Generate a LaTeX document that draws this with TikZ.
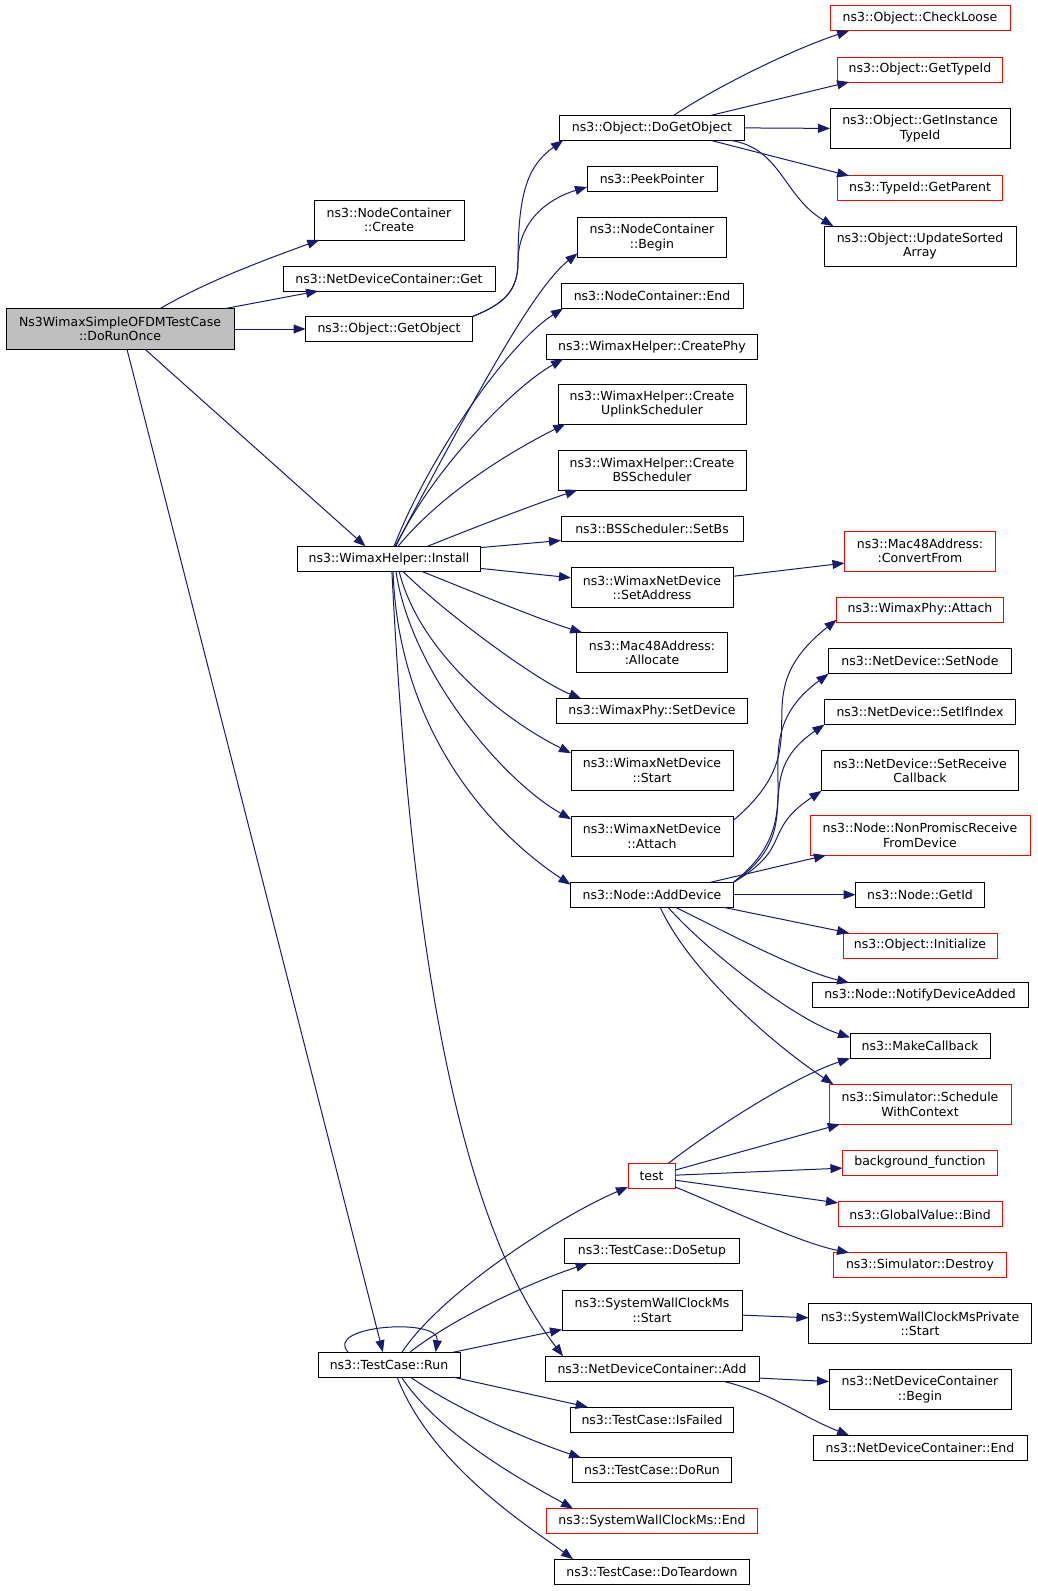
\documentclass[tikz,border=0pt]{standalone}
\usepackage{fontspec}
\setmainfont{DejaVu Sans}
\usetikzlibrary{arrows.meta}
\definecolor{edgeblue}{RGB}{25,25,112}
\definecolor{rootgrey}{RGB}{191,191,191}
\definecolor{docred}{RGB}{255,0,0}
\tikzset{
  fn/.style={draw=black, fill=white, line width=0.9pt, inner sep=0pt, outer sep=0pt,
    minimum height=25pt, align=center, font=\fontsize{12.5}{14.3}\selectfont},
  fntwo/.style={fn, minimum height=40pt},
  fnred/.style={fn, draw=docred},
  fnredtwo/.style={fntwo, draw=docred},
  fnroot/.style={fntwo, fill=rootgrey, minimum height=41pt},
  call/.style={draw=edgeblue, line width=1pt, -{Triangle[length=12pt,width=9pt]}},
}
\begin{document}
\begin{tikzpicture}[x=1pt,y=1pt]
    \useasboundingbox (0,0) rectangle (1037,-1591);
    \node[fnroot, minimum width=228pt] (dorunonce) at (120,-329) {Ns3WimaxSimpleOFDMTestCase\\::DoRunOnce};
    \node[fntwo, minimum width=150pt] (nccreate) at (389,-220) {ns3::NodeContainer\\::Create};
    \node[fn, minimum width=212pt] (ndcget) at (389,-278.5) {ns3::NetDeviceContainer::Get};
    \node[fn, minimum width=167pt] (getobject) at (389,-329) {ns3::Object::GetObject};
    \node[fn, minimum width=183pt] (install) at (389,-558.8) {ns3::WimaxHelper::Install};
    \node[fn, minimum width=142pt] (run) at (389,-1364.7) {ns3::TestCase::Run};

    \node[fn, minimum width=185pt] (dogetobject) at (652,-127.9) {ns3::Object::DoGetObject};
    \node[fn, minimum width=130pt] (peekpointer) at (652,-179) {ns3::PeekPointer};
    \node[fntwo, minimum width=149pt] (ncbegin) at (652,-237.5) {ns3::NodeContainer\\::Begin};
    \node[fn, minimum width=182pt] (ncend) at (652,-295.9) {ns3::NodeContainer::End};
    \node[fn, minimum width=211pt] (createphy) at (652,-346.6) {ns3::WimaxHelper::CreatePhy};
    \node[fntwo, minimum width=188pt] (createuplink) at (652,-404) {ns3::WimaxHelper::Create\\UplinkScheduler};
    \node[fntwo, minimum width=188pt] (createbs) at (652,-470) {ns3::WimaxHelper::Create\\BSScheduler};
    \node[fn, minimum width=182pt] (setbs) at (652,-529.3) {ns3::BSScheduler::SetBs};
    \node[fntwo, minimum width=162pt] (setaddress) at (652,-587.7) {ns3::WimaxNetDevice\\::SetAddress};
    \node[fntwo, minimum width=151pt] (allocate) at (652,-652.6) {ns3::Mac48Address:\\:Allocate};
    \node[fn, minimum width=191pt] (setdevice) at (652,-711) {ns3::WimaxPhy::SetDevice};
    \node[fntwo, minimum width=162pt] (wndstart) at (652,-770.4) {ns3::WimaxNetDevice\\::Start};
    \node[fntwo, minimum width=162pt] (wndattach) at (652,-836.4) {ns3::WimaxNetDevice\\::Attach};
    \node[fn, minimum width=163pt] (adddevice) at (652,-894.7) {ns3::Node::AddDevice};
    \node[fnred, minimum width=47pt] (test) at (651.5,-1176) {test};
    \node[fn, minimum width=175pt] (dosetup) at (652,-1251) {ns3::TestCase::DoSetup};
    \node[fntwo, minimum width=180pt] (swcmstart) at (652,-1310.4) {ns3::SystemWallClockMs\\::Start};
    \node[fn, minimum width=214pt] (ndcadd) at (652,-1368.7) {ns3::NetDeviceContainer::Add};
    \node[fn, minimum width=163pt] (isfailed) at (652,-1419.5) {ns3::TestCase::IsFailed};
    \node[fn, minimum width=159pt] (dorun) at (652,-1470.2) {ns3::TestCase::DoRun};
    \node[fnred, minimum width=211pt] (swcmend) at (652,-1521) {ns3::SystemWallClockMs::End};
    \node[fn, minimum width=195pt] (doteardown) at (652,-1571.7) {ns3::TestCase::DoTeardown};

    \node[fnred, minimum width=180pt] (checkloose) at (920,-18.3) {ns3::Object::CheckLoose};
    \node[fnred, minimum width=165pt] (gettypeid) at (920,-69.5) {ns3::Object::GetTypeId};
    \node[fntwo, minimum width=180pt] (getinstance) at (920,-128.4) {ns3::Object::GetInstance\\TypeId};
    \node[fnred, minimum width=165pt] (getparent) at (920,-188.3) {ns3::TypeId::GetParent};
    \node[fntwo, minimum width=192pt] (updatesorted) at (920,-246.1) {ns3::Object::UpdateSorted\\Array};
    \node[fnredtwo, minimum width=151pt] (convertfrom) at (920,-551.1) {ns3::Mac48Address:\\:ConvertFrom};
    \node[fnred, minimum width=167pt] (phyattach) at (920,-609.5) {ns3::WimaxPhy::Attach};
    \node[fn, minimum width=183pt] (setnode) at (920,-661.3) {ns3::NetDevice::SetNode};
    \node[fn, minimum width=191pt] (setifindex) at (920,-712) {ns3::NetDevice::SetIfIndex};
    \node[fntwo, minimum width=197pt] (setreceive) at (920,-770.9) {ns3::NetDevice::SetReceive\\Callback};
    \node[fnredtwo, minimum width=220pt] (nonpromisc) at (920,-835.3) {ns3::Node::NonPromiscReceive\\FromDevice};
    \node[fn, minimum width=129pt] (getid) at (920,-894.7) {ns3::Node::GetId};
    \node[fnred, minimum width=154pt] (initialize) at (920,-945.5) {ns3::Object::Initialize};
    \node[fn, minimum width=216pt] (notify) at (920,-995.2) {ns3::Node::NotifyDeviceAdded};
    \node[fn, minimum width=140pt] (makecallback) at (920,-1046) {ns3::MakeCallback};
    \node[fnredtwo, minimum width=182pt] (schedule) at (920,-1104.3) {ns3::Simulator::Schedule\\WithContext};
    \node[fnred, minimum width=155pt] (bgfunction) at (920,-1162.7) {background\_function};
    \node[fnred, minimum width=164pt] (gvbind) at (920,-1214.4) {ns3::GlobalValue::Bind};
    \node[fnred, minimum width=173pt] (simdestroy) at (920,-1265.2) {ns3::Simulator::Destroy};
    \node[fntwo, minimum width=223pt] (swcmprivate) at (920,-1323.6) {ns3::SystemWallClockMsPrivate\\::Start};
    \node[fntwo, minimum width=182pt] (ndcbegin) at (920,-1389.5) {ns3::NetDeviceContainer\\::Begin};
    \node[fn, minimum width=214pt] (ndcend) at (920,-1447.9) {ns3::NetDeviceContainer::End};

    % DoRunOnce
    \draw[call] (dorunonce.27) .. controls +(48,28) and +(-52,-19) .. (nccreate.196);
    \draw[call] (dorunonce.11) -- (ndcget.190);
    \draw[call] (dorunonce.east) -- (getobject.west);
    \draw[call] (dorunonce.321) -- (install.152);
    \draw[call] (dorunonce.289) -- (run.116);

    % GetObject
    \draw[call] (getobject.north east) .. controls +(30,12) and +(0,-30) .. (518,-262)
        .. controls +(0,70) and +(-35,-25) .. (dogetobject.188);
    \draw[call] (getobject.north east) .. controls +(30,12) and +(0,-30) .. (518,-262)
        .. controls +(0,40) and +(-40,-12) .. (peekpointer.187);

    % Install
    \draw[call] (install.64) .. controls +(70,130) and +(-47,-37) .. (ncbegin.192);
    \draw[call] (install.68) .. controls +(35,90) and +(-55,-35) .. (ncend.188);
    \draw[call] (install.61) .. controls +(35,75) and +(-50,-28) .. (createphy.188);
    \draw[call] (install.54) .. controls +(45,55) and +(-50,-25) .. (createuplink.193);
    \draw[call] (install.18) .. controls +(50,20) and +(-50,-17) .. (createbs.195);
    \draw[call] (install.7) -- (setbs.187);
    \draw[call] (install.354) -- (setaddress.173);
    \draw[call] (install.339) .. controls +(50,-20) and +(-45,14) .. (allocate.164);
    \draw[call] (install.318) .. controls +(40,-40) and +(-45,18) .. (setdevice.170);
    \draw[call] (install.309) .. controls +(20,-80) and +(-70,35) .. (wndstart.168);
    \draw[call] (install.299) .. controls +(15,-100) and +(-70,40) .. (wndattach.168);
    \draw[call] (install.288) .. controls +(5,-150) and +(-90,60) .. (adddevice.173);
    \draw[call] (install.283) .. controls +(20,-400) and +(-100,130) .. (ndcadd.172);

    % DoGetObject
    \draw[call] (dogetobject.30) .. controls +(45,30) and +(-55,-18) .. (checkloose.190);
    \draw[call] (dogetobject.12) -- (gettypeid.190);
    \draw[call] (dogetobject.east) -- (getinstance.west);
    \draw[call] (dogetobject.348) -- (getparent.170);
    \draw[call] (dogetobject.351) .. controls +(50,-8) and +(-50,30) .. (updatesorted.167);

    \draw[call] (setaddress.8) -- (convertfrom.189);
    \draw[call] (wndattach.11) .. controls +(95,80) and +(-100,-80) .. (phyattach.187);

    % AddDevice
    \draw[call] (adddevice.north east) .. controls +(90,70) and +(-95,-70) .. (setnode.south west);
    \draw[call] (adddevice.north east) .. controls +(80,55) and +(-80,-55) .. (setifindex.south west);
    \draw[call] (adddevice.north east) .. controls +(60,35) and +(-60,-40) .. (setreceive.south west);
    \draw[call] (adddevice.12) -- (nonpromisc.192);
    \draw[call] (adddevice.east) -- (getid.west);
    \draw[call] (adddevice.350) -- (initialize.170);
    \draw[call] (adddevice.332) .. controls +(50,-25) and +(-50,12) .. (notify.170);
    \draw[call] (adddevice.322) .. controls +(40,-45) and +(-55,18) .. (makecallback.173);
    \draw[call] (adddevice.303) .. controls +(30,-65) and +(-60,40) .. (schedule.167);

    % test
    \draw[call] (test.37) .. controls +(45,35) and +(-55,-18) .. (makecallback.190);
    \draw[call] (test.14) -- (schedule.194);
    \draw[call] (test.2) -- (bgfunction.184);
    \draw[call] (test.350) -- (gvbind.172);
    \draw[call] (test.335) .. controls +(50,-20) and +(-50,10) .. (simdestroy.170);

    % Run
    \draw[call] (run.163) .. controls +(-25,27) and +(5,35) .. (run.15);
    \draw[call] (run.44) .. controls +(40,60) and +(-70,-30) .. (test.205);
    \draw[call] (run.31) .. controls +(45,35) and +(-55,-18) .. (dosetup.191);
    \draw[call] (run.11) -- (swcmstart.192);
    \draw[call] (run.349) -- (isfailed.169);
    \draw[call] (run.330) .. controls +(50,-35) and +(-45,15) .. (dorun.170);
    \draw[call] (run.315) .. controls +(40,-60) and +(-45,25) .. (swcmend.171);
    \draw[call] (run.303) .. controls +(35,-90) and +(-40,30) .. (doteardown.171);

    \draw[call] (swcmstart.357) -- (swcmprivate.177);
    \draw[call] (ndcadd.355) -- (ndcbegin.175);
    \draw[call] (ndcadd.350) .. controls +(50,-12) and +(-50,20) .. (ndcend.170);
\end{tikzpicture}
\end{document}
